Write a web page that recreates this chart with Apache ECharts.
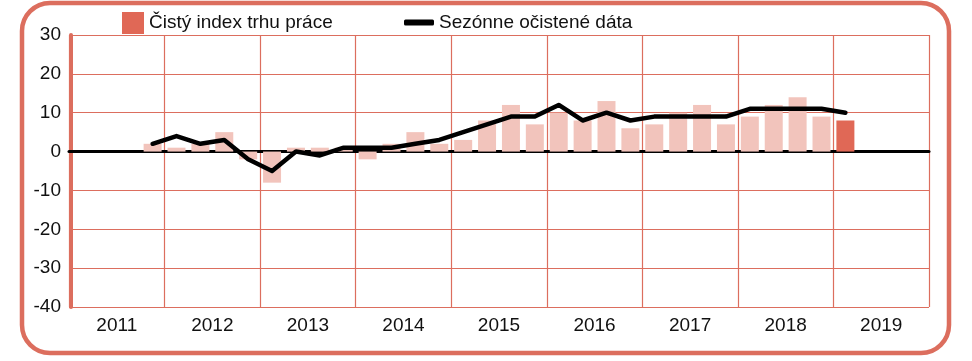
<!DOCTYPE html>
<html>
<head>
<meta charset="utf-8">
<script src="https://cdn.jsdelivr.net/npm/echarts@6/dist/echarts.min.js"></script>
<style>
html,body{margin:0;padding:0;background:#fff;}
#c{width:972px;height:361px;}
</style>
</head>
<body>
<div id="c"></div>
<script>
var years = ['2011','2012','2013','2014','2015','2016','2017','2018','2019'];
var quarters = ['Q1','Q2','Q3','Q4'];
var yTicks = {min: -40, max: 30, step: 10};
var barName = 'Čistý index trhu práce';
var lineName = 'Sezónne očistené dáta';
var barValues = [
  null, null, null, 2,
  1, 2, 5, -2,
  -8, 1, 1, 1,
  -2, 2, 5, 2,
  3, 8, 12, 7,
  10, 8, 13, 6,
  7, 10, 12, 7,
  9, 12, 14, 9,
  8, null, null, null
];
var lineValues = [
  null, null, null, 2,
  4, 2, 3, -2,
  -5, 0, -1, 1,
  1, 1, 2, 3,
  5, 7, 9, 9,
  12, 8, 10, 8,
  9, 9, 9, 9,
  11, 11, 11, 11,
  10, null, null, null
];
var highlightIndex = 32;

var quarterCats = [];
years.forEach(function(y){ quarters.forEach(function(q){ quarterCats.push(y + ' ' + q); }); });

var RED = '#dc6e5e';
var PINK = '#f2c4bc';
var DARK = '#e06856';
var FONT = '"Liberation Sans", Arial, sans-serif';

var barData = barValues.map(function(v, i){
  if (v === null) return null;
  return {value: v, itemStyle: {color: i === highlightIndex ? DARK : PINK}};
});

var chart = echarts.init(document.getElementById('c'), null, {renderer: 'canvas'});
chart.setOption({
  animation: false,
  backgroundColor: '#fff',
  grid: {left: 69, right: 43, top: 35, bottom: 54, containLabel: false},
  graphic: [{
    type: 'rect', z: -1,
    shape: {x: 22, y: 3, width: 927, height: 350, r: 28},
    style: {fill: 'none', stroke: RED, lineWidth: 4.5}
  }],
  legend: [{
    data: [barName],
    left: 117, top: 7,
    itemWidth: 22, itemHeight: 22,
    icon: 'rect',
    textStyle: {fontFamily: FONT, fontSize: 19, color: '#111'}
  }, {
    data: [{name: lineName, icon: 'roundRect'}],
    left: 399, top: 8,
    itemWidth: 30, itemHeight: 6,
    itemStyle: {color: '#000'},
    textStyle: {fontFamily: FONT, fontSize: 19, color: '#111'}
  }],
  xAxis: [{
    type: 'category', data: quarterCats,
    axisLine: {show: true, onZero: true, lineStyle: {color: '#000', width: 3}},
    axisTick: {show: false}, axisLabel: {show: false}, splitLine: {show: false}
  }, {
    type: 'category', data: years, position: 'bottom',
    axisLine: {show: false, onZero: false}, axisTick: {show: false},
    axisLabel: {fontFamily: FONT, fontSize: 19, color: '#111', margin: 9},
    splitLine: {show: true, interval: 0, lineStyle: {color: RED, width: 1.2}}
  }],
  yAxis: {
    type: 'value', min: yTicks.min, max: yTicks.max, interval: yTicks.step,
    offset: -2,
    axisLine: {show: true, lineStyle: {color: RED, width: 4}},
    axisTick: {show: false},
    axisLabel: {fontFamily: FONT, fontSize: 19, color: '#111', margin: 10},
    splitLine: {show: true, lineStyle: {color: RED, width: 1.2}}
  },
  series: [{
    name: barName, type: 'bar', xAxisIndex: 0, data: barData,
    barWidth: 18, itemStyle: {color: DARK}, z: 2
  }, {
    name: lineName, type: 'line', xAxisIndex: 0, data: lineValues,
    symbol: 'none', connectNulls: false,
    lineStyle: {color: '#000', width: 4.5, cap: 'round', join: 'round'},
    itemStyle: {color: '#000'}, z: 4
  }]
});
</script>
</body>
</html>
